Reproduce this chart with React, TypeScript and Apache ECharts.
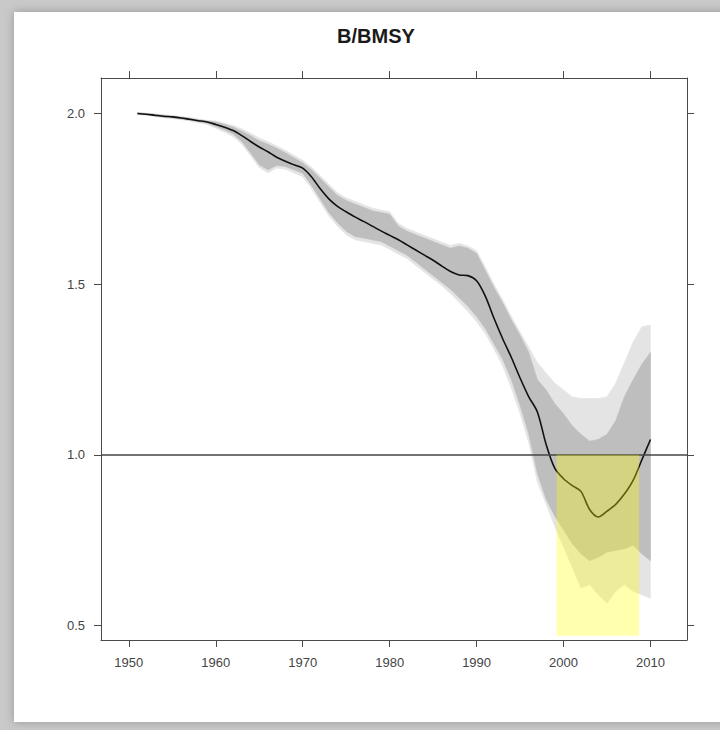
import React, { useEffect, useRef } from "react";
import * as echarts from "echarts";

// ---- data ----
const years = [
  1951, 1952, 1953, 1954, 1955, 1956, 1957, 1958, 1959, 1960,
  1961, 1962, 1963, 1964, 1965, 1966, 1967, 1968, 1969, 1970,
  1971, 1972, 1973, 1974, 1975, 1976, 1977, 1978, 1979, 1980,
  1981, 1982, 1983, 1984, 1985, 1986, 1987, 1988, 1989, 1990,
  1991, 1992, 1993, 1994, 1995, 1996, 1997, 1998, 1999, 2000,
  2001, 2002, 2003, 2004, 2005, 2006, 2007, 2008, 2009, 2010,
];

// median trajectory (black line)
const median = [
  2.0, 1.998, 1.995, 1.992, 1.99, 1.987, 1.983, 1.979, 1.975, 1.968,
  1.96, 1.95, 1.935, 1.918, 1.902, 1.888, 1.872, 1.86, 1.85, 1.84,
  1.815, 1.78, 1.75, 1.728, 1.712, 1.697, 1.684, 1.67, 1.656, 1.643,
  1.63, 1.615, 1.6, 1.585, 1.57, 1.553, 1.537, 1.527, 1.525, 1.51,
  1.465, 1.4, 1.34, 1.285, 1.225, 1.17, 1.125, 1.03, 0.96, 0.93,
  0.91, 0.893, 0.84, 0.818, 0.835, 0.855, 0.885, 0.925, 0.985, 1.045,
];

// dense core of the simulated trajectories
const coreUpper = [
  2.002, 2.0, 1.998, 1.995, 1.993, 1.99, 1.986, 1.982, 1.978, 1.975,
  1.968, 1.96, 1.948, 1.935, 1.92, 1.91, 1.898, 1.885, 1.87, 1.855,
  1.835, 1.81, 1.785, 1.76, 1.745, 1.735, 1.725, 1.715, 1.71, 1.705,
  1.67, 1.655, 1.645, 1.635, 1.625, 1.615, 1.605, 1.612, 1.605, 1.59,
  1.54, 1.49, 1.445, 1.395, 1.35, 1.3, 1.22, 1.19, 1.15, 1.12,
  1.085, 1.06, 1.04, 1.045, 1.06, 1.1, 1.17, 1.22, 1.265, 1.3,
];
const coreLower = [
  1.998, 1.996, 1.992, 1.989, 1.987, 1.984, 1.98, 1.976, 1.972, 1.962,
  1.952, 1.94, 1.918, 1.885, 1.85, 1.835, 1.848, 1.845, 1.835, 1.825,
  1.79, 1.75, 1.71, 1.68, 1.655, 1.64, 1.635, 1.63, 1.625, 1.612,
  1.598, 1.585, 1.565, 1.545, 1.525, 1.505, 1.485, 1.46, 1.435, 1.405,
  1.37, 1.325, 1.28, 1.22, 1.145, 1.06, 0.945, 0.87, 0.82, 0.78,
  0.74, 0.71, 0.69, 0.7, 0.715, 0.72, 0.725, 0.735, 0.71, 0.69,
];

// light fringe of outlying trajectories
const fringeUpper = [
  2.003, 2.001, 1.999, 1.996, 1.994, 1.991, 1.988, 1.984, 1.98, 1.978,
  1.972, 1.965, 1.955, 1.942, 1.928, 1.918, 1.905, 1.892, 1.878, 1.863,
  1.843, 1.818, 1.793, 1.768, 1.753, 1.743, 1.733, 1.723, 1.717, 1.712,
  1.678, 1.663, 1.653, 1.643, 1.633, 1.623, 1.613, 1.62, 1.612, 1.598,
  1.55, 1.5, 1.455, 1.405, 1.36, 1.315, 1.27, 1.24, 1.21, 1.19,
  1.17, 1.165, 1.165, 1.165, 1.17, 1.21, 1.27, 1.33, 1.375, 1.38,
];
const fringeLower = [
  1.997, 1.995, 1.991, 1.988, 1.985, 1.982, 1.978, 1.973, 1.968, 1.957,
  1.945, 1.932, 1.91, 1.876, 1.842, 1.826, 1.84, 1.837, 1.826, 1.815,
  1.78, 1.74, 1.7, 1.67, 1.645, 1.63, 1.625, 1.62, 1.615, 1.602,
  1.588, 1.575, 1.555, 1.535, 1.515, 1.495, 1.472, 1.446, 1.42, 1.39,
  1.355, 1.31, 1.26, 1.195, 1.12, 1.035, 0.92, 0.855, 0.79, 0.73,
  0.67, 0.61, 0.62, 0.59, 0.565, 0.6, 0.62, 0.6, 0.59, 0.58,
];

const xTicks = [1950, 1960, 1970, 1980, 1990, 2000, 2010];
const yTicks = [0.5, 1.0, 1.5, 2.0];
const refLevel = 1.0;
const highlightYears = [1999.2, 2008.7];
const highlightBottom = 0.47;
const titleText = "B/BMSY";

const FONT = "'Liberation Sans', Arial, sans-serif";

export default function App() {
  const ref = useRef<HTMLDivElement>(null);

  useEffect(() => {
    if (!ref.current) return;
    const chart = echarts.init(ref.current, undefined, { renderer: "svg" });

    const xMin = 1946.8;
    const xMax = 2014.2;
    const yMin = 0.4575;
    const yMax = 2.104;

    const axisLineStyle = { color: "#4a4a4a", width: 1 };
    const tickStyle = { show: true, inside: false, length: 7, lineStyle: { color: "#4a4a4a", width: 1 } };

    // a band between two envelopes, drawn as one polygon through the axis scales
    const bandSeries = (name: string, lo: number[], hi: number[], color: string, z: number) => ({
      type: "custom",
      name,
      silent: true,
      clip: true,
      z,
      data: years.map((y, i) => [y, lo[i], hi[i]]),
      encode: { x: 0, y: [1, 2] },
      renderItem: (params: any, api: any) => {
        if (params.dataIndex !== 0) return null;
        const top = years.map((y, i) => api.coord([y, hi[i]]));
        const bottom = years.map((y, i) => api.coord([y, lo[i]])).reverse();
        return {
          type: "polygon",
          shape: { points: top.concat(bottom), smooth: 0 },
          style: { fill: color, stroke: color, lineWidth: 0.6 },
        };
      },
    });

    chart.setOption({
      animation: false,
      backgroundColor: "#c9c9c9",
      graphic: [
        {
          type: "rect",
          shape: { x: 14, y: 12, width: 720, height: 710 },
          style: { fill: "#ffffff", shadowBlur: 10, shadowColor: "rgba(0,0,0,0.25)" },
          z: -10,
          silent: true,
        },
      ],
      title: {
        text: titleText,
        left: 371,
        top: 21,
        textAlign: "center",
        textStyle: { fontFamily: FONT, fontSize: 20, fontWeight: "bold", color: "#1a1a1a" },
      },
      grid: { left: 101, right: 33, top: 78, bottom: 90, containLabel: false },
      xAxis: [
        {
          type: "value",
          position: "bottom",
          min: xMin,
          max: xMax,
          axisLine: { show: true, lineStyle: axisLineStyle },
          axisTick: { ...tickStyle, customValues: xTicks },
          axisLabel: {
            customValues: xTicks,
            margin: 16,
            color: "#444",
            fontFamily: FONT,
            fontSize: 13,
            formatter: (v: number) => String(Math.round(v)),
          },
          splitLine: { show: false },
        },
        {
          type: "value",
          position: "top",
          min: xMin,
          max: xMax,
          axisLine: { show: true, lineStyle: axisLineStyle },
          axisTick: { ...tickStyle, customValues: xTicks },
          axisLabel: { show: false, customValues: xTicks },
          splitLine: { show: false },
        },
      ],
      yAxis: [
        {
          type: "value",
          position: "left",
          min: yMin,
          max: yMax,
          axisLine: { show: true, lineStyle: axisLineStyle },
          axisTick: { ...tickStyle, customValues: yTicks },
          axisLabel: {
            customValues: yTicks,
            margin: 16,
            color: "#444",
            fontFamily: FONT,
            fontSize: 13,
            formatter: (v: number) => v.toFixed(1),
          },
          splitLine: { show: false },
        },
        {
          type: "value",
          position: "right",
          min: yMin,
          max: yMax,
          axisLine: { show: true, lineStyle: axisLineStyle },
          axisTick: { ...tickStyle, customValues: yTicks },
          axisLabel: { show: false, customValues: yTicks },
          splitLine: { show: false },
        },
      ],
      series: [
        bandSeries("fringe", fringeLower, fringeUpper, "#e4e4e4", 1),
        bandSeries("core", coreLower, coreUpper, "#bebebe", 2),
        {
          type: "line",
          name: "median",
          data: years.map((y, i) => [y, median[i]]),
          showSymbol: false,
          symbol: "none",
          smooth: 0.3,
          lineStyle: { color: "#111", width: 1.6 },
          z: 3,
          markLine: {
            silent: true,
            symbol: "none",
            label: { show: false },
            lineStyle: { color: "#444", width: 1.5, type: "solid" },
            data: [{ yAxis: refLevel }],
          },
        },
        {
          type: "line",
          name: "highlight",
          data: [],
          z: 10,
          markArea: {
            silent: true,
            z: 10,
            itemStyle: { color: "rgba(255,255,0,0.32)" },
            data: [[{ coord: [highlightYears[0], refLevel] }, { coord: [highlightYears[1], highlightBottom] }]],
          },
        },
      ],
    });

    return () => chart.dispose();
  }, []);

  return (
    <div
      ref={ref}
      style={{ position: "fixed", left: 0, top: 0, width: 720, height: 730 }}
    />
  );
}
